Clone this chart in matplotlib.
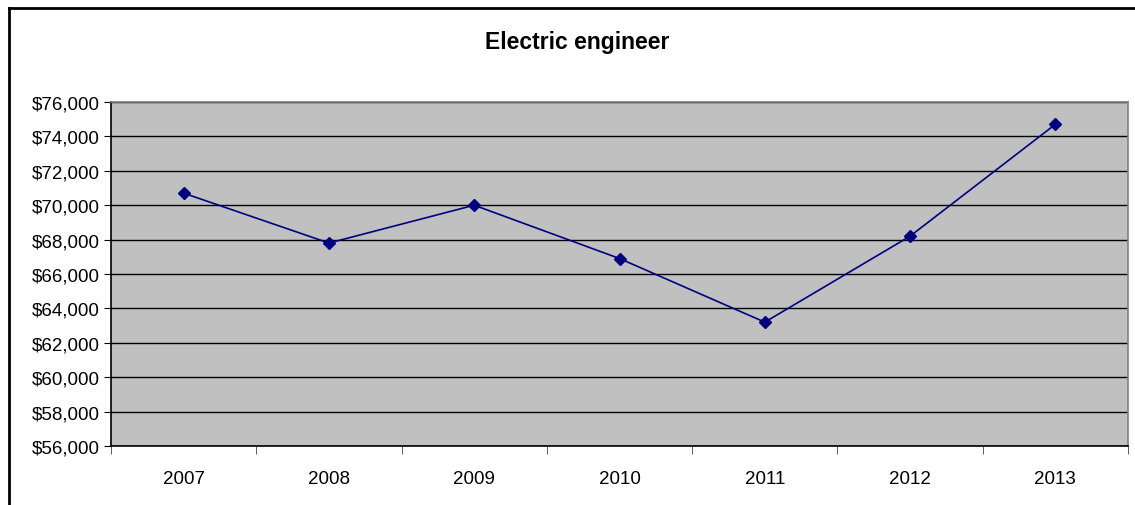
import numpy as np
import matplotlib.pyplot as plt
from matplotlib.lines import Line2D
from matplotlib.ticker import FuncFormatter, FixedLocator

plt.rcParams['font.family'] = ['Liberation Sans', 'DejaVu Sans']

years = ['2007', '2008', '2009', '2010', '2011', '2012', '2013']
salary = [70700, 67800, 70000, 66900, 63200, 68200, 74700]

W, H = 1135, 506
fig = plt.figure(figsize=(W / 100, H / 100), dpi=100)

# plot area in pixel coords
left, top, right, bottom = 111, 103, 1128, 447
ax = fig.add_axes([left / W, 1 - bottom / H, (right - left) / W, (bottom - top) / H])
ax.set_facecolor('#c0c0c0')

x = np.arange(len(years))
ax.plot(x, salary, color='#000080', lw=1.2, marker='D', ms=6, mfc='#000080', mec='#000080', zorder=3)

ax.set_xlim(-0.5, len(years) - 0.5)
ax.set_ylim(56000, 76000)
ax.set_yticks(np.arange(56000, 76001, 2000))
ax.yaxis.set_major_formatter(FuncFormatter(lambda v, p: '${:,.0f}'.format(v)))
ax.yaxis.grid(True, color='black', lw=1.0)
ax.set_axisbelow(True)

ax.set_xticks(x)
ax.set_xticklabels(years)
ax.xaxis.set_minor_locator(FixedLocator(np.arange(-0.5, len(years), 1.0)))
ax.tick_params(axis='x', which='major', length=0, pad=17, labelsize=13.5)
ax.tick_params(axis='x', which='minor', length=6, color='#404040', direction='out')
ax.tick_params(axis='y', length=5, color='black', direction='out', labelsize=13.5, pad=3)

ax.spines['top'].set_color('#808080')
ax.spines['right'].set_color('#808080')
ax.spines['left'].set_color('black')
ax.spines['bottom'].set_color('black')
for s in ax.spines.values():
    s.set_linewidth(1.2)

fig.text(577 / W, 1 - 42 / H, 'Electric engineer', ha='center', va='center',
         fontsize=16.5, fontweight='bold')

# outer chart border (top and left visible)
fig.add_artist(Line2D([8.5 / W, 8.5 / W], [0, 1 - 8.5 / H], color='black', lw=2, transform=fig.transFigure))
fig.add_artist(Line2D([8.5 / W, 1], [1 - 8.5 / H, 1 - 8.5 / H], color='black', lw=2, transform=fig.transFigure))

fig.savefig('out.png', dpi=100)
